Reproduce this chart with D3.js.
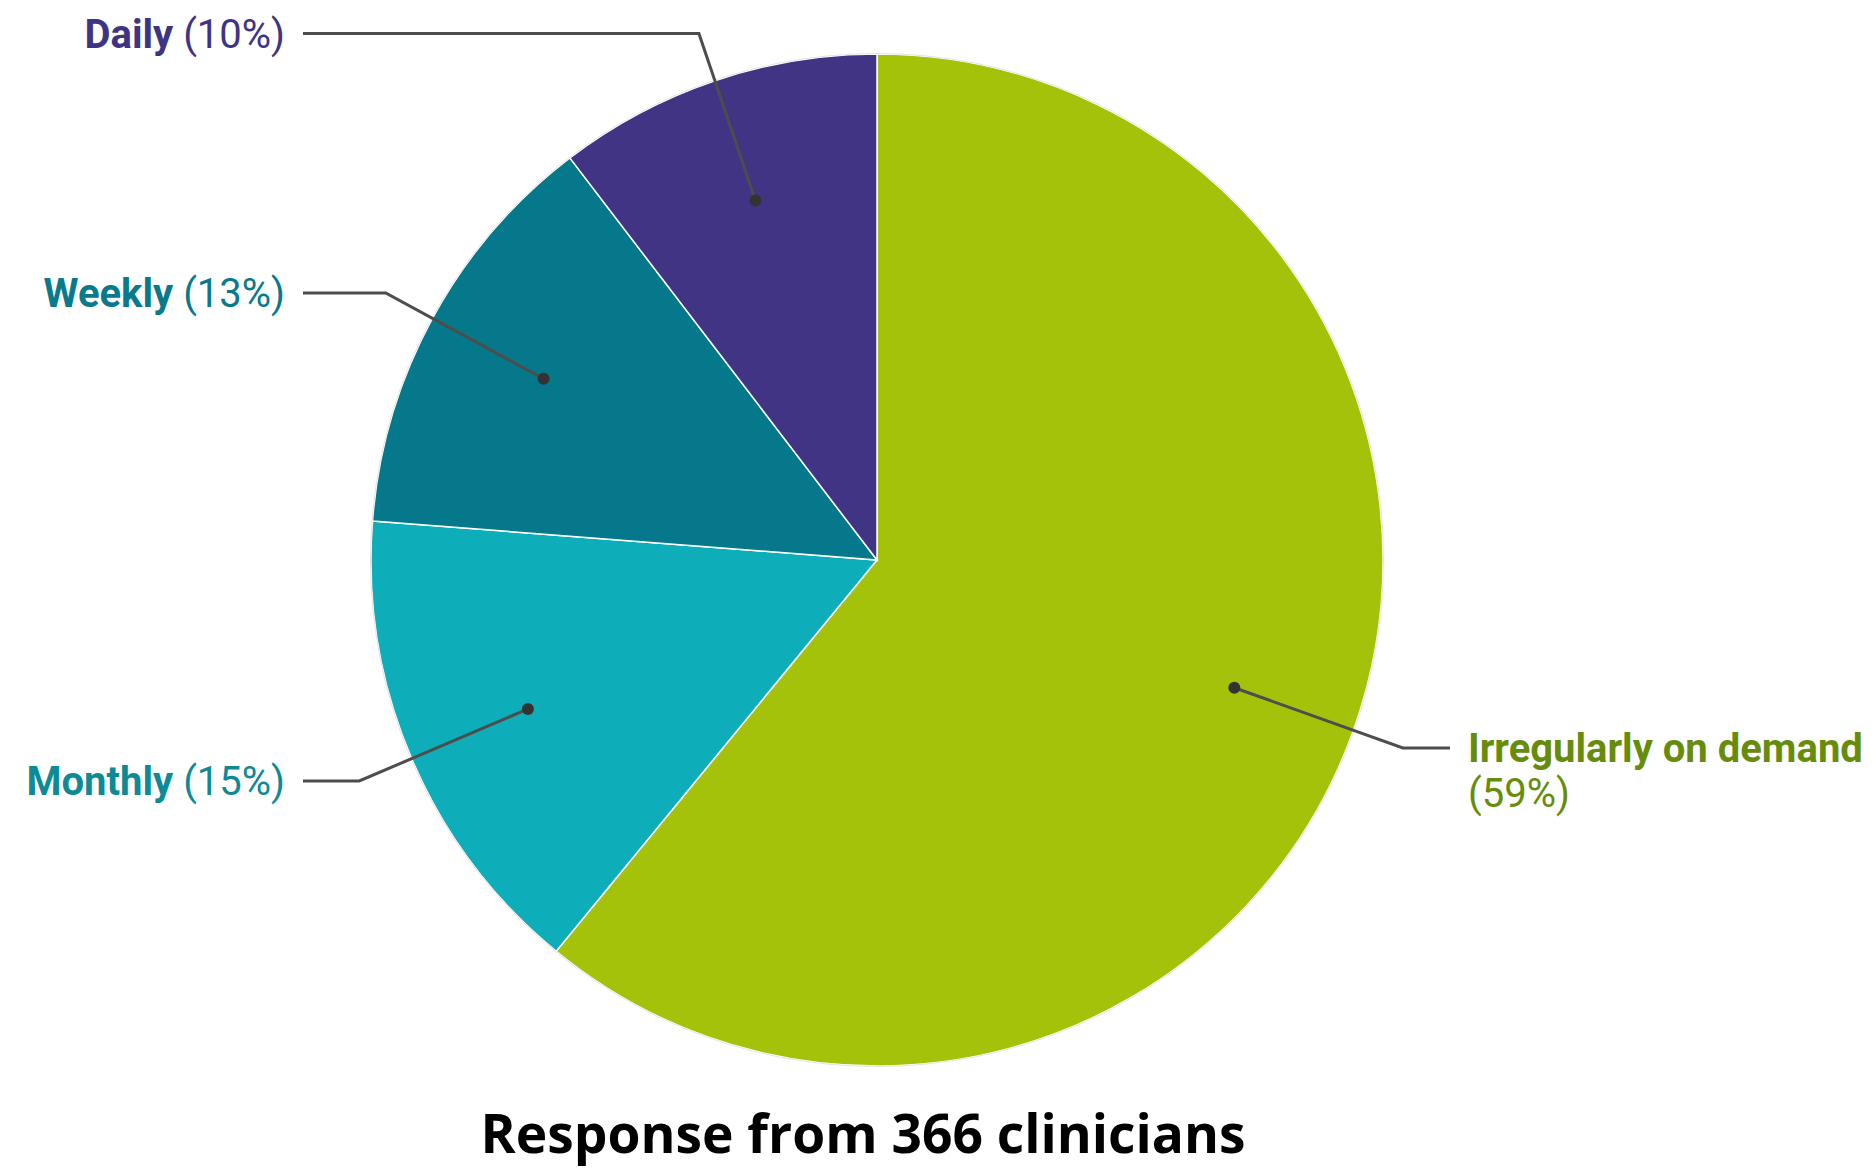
<!DOCTYPE html>
<html>
<head>
<meta charset="utf-8">
<script src="https://cdn.jsdelivr.net/npm/d3@7"></script>
<style>
  html, body { margin: 0; padding: 0; background: #ffffff; }
  svg { display: block; }
</style>
</head>
<body>
<svg id="chart" width="1876" height="1170"></svg>
<script>
// ---- data ----
const categories = ["Irregularly on demand", "Monthly", "Weekly", "Daily"];
const counts = [223, 56, 49, 38];            // out of 366 clinicians
const percentLabels = ["59%", "15%", "13%", "10%"];
const sliceColors = ["#a5c20b", "#0daeb9", "#05798b", "#413485"];
const textColors = ["#668c0c", "#0c8a96", "#097a8b", "#3e3485"];
const titleText = "Response from 366 clinicians";

// ---- layout ----
const W = 1876, H = 1170;
const cx = 877, cy = 560, R = 506;
const labelYs = [748, 781, 293, 33.5];       // vertical position of each label row
const leftLineEnd = 303, leftTextX = 285;
const rightLineEnd = 1450, rightTextX = 1468;
const fontSize = 40;

const svg = d3.select("#chart");
const g = svg.append("g").attr("transform", `translate(${cx},${cy})`);

const pie = d3.pie().sort(null).value(d => d.v);
const data = categories.map((c, i) => ({ c, v: counts[i], i }));
const arcs = pie(data);

const arc = d3.arc().innerRadius(0).outerRadius(R);
const dotArc = d3.arc().innerRadius(R * 0.75).outerRadius(R * 0.75);

g.selectAll("path.slice")
  .data(arcs)
  .join("path")
  .attr("class", "slice")
  .attr("d", arc)
  .attr("fill", d => sliceColors[d.data.i])
  .attr("stroke", "#ffffff")
  .attr("stroke-width", 1.5);

g.append("circle")
  .attr("r", R + 0.5)
  .attr("fill", "none")
  .attr("stroke", "#e4e4e4")
  .attr("stroke-width", 1);

// leader lines + dots + labels
arcs.forEach(d => {
  const i = d.data.i;
  const [px, py] = dotArc.centroid(d);
  const ly = labelYs[i] - cy;
  // elbow lies on radial line through the dot
  const t = ly / py;
  const ex = px * t;
  const isRight = px > 0;
  const endX = (isRight ? rightLineEnd : leftLineEnd) - cx;
  g.append("polyline")
    .attr("points", `${px},${py} ${ex},${ly} ${endX},${ly}`)
    .attr("fill", "none")
    .attr("stroke", "#4d4d4d")
    .attr("stroke-width", 3);
  g.append("circle")
    .attr("cx", px).attr("cy", py).attr("r", 6)
    .attr("fill", "#333333");

  if (isRight) {
    const txt = svg.append("text")
      .attr("x", rightTextX)
      .attr("y", labelYs[i] + 14)
      .attr("font-family", "Roboto, sans-serif")
      .attr("font-size", fontSize)
      .attr("fill", textColors[i]);
    txt.append("tspan").attr("font-weight", 700).text(categories[i]);
    svg.append("text")
      .attr("x", rightTextX)
      .attr("y", labelYs[i] + 14 + 45)
      .attr("font-family", "Roboto, sans-serif")
      .attr("font-size", fontSize)
      .attr("fill", textColors[i])
      .text(`(${percentLabels[i]})`);
  } else {
    const txt = svg.append("text")
      .attr("x", leftTextX)
      .attr("y", labelYs[i] + 14)
      .attr("text-anchor", "end")
      .attr("font-family", "Roboto, sans-serif")
      .attr("font-size", fontSize)
      .attr("fill", textColors[i]);
    txt.append("tspan").attr("font-weight", 700).text(categories[i]);
    txt.append("tspan").attr("font-weight", 400).text(` (${percentLabels[i]})`);
  }
});

svg.append("text")
  .attr("x", 863)
  .attr("y", 1153)
  .attr("text-anchor", "middle")
  .attr("font-family", "'Open Sans', sans-serif")
  .attr("font-weight", 700)
  .attr("font-size", 54)
  .attr("textLength", 765)
  .attr("lengthAdjust", "spacingAndGlyphs")
  .attr("fill", "#000000")
  .text(titleText);
</script>
</body>
</html>
